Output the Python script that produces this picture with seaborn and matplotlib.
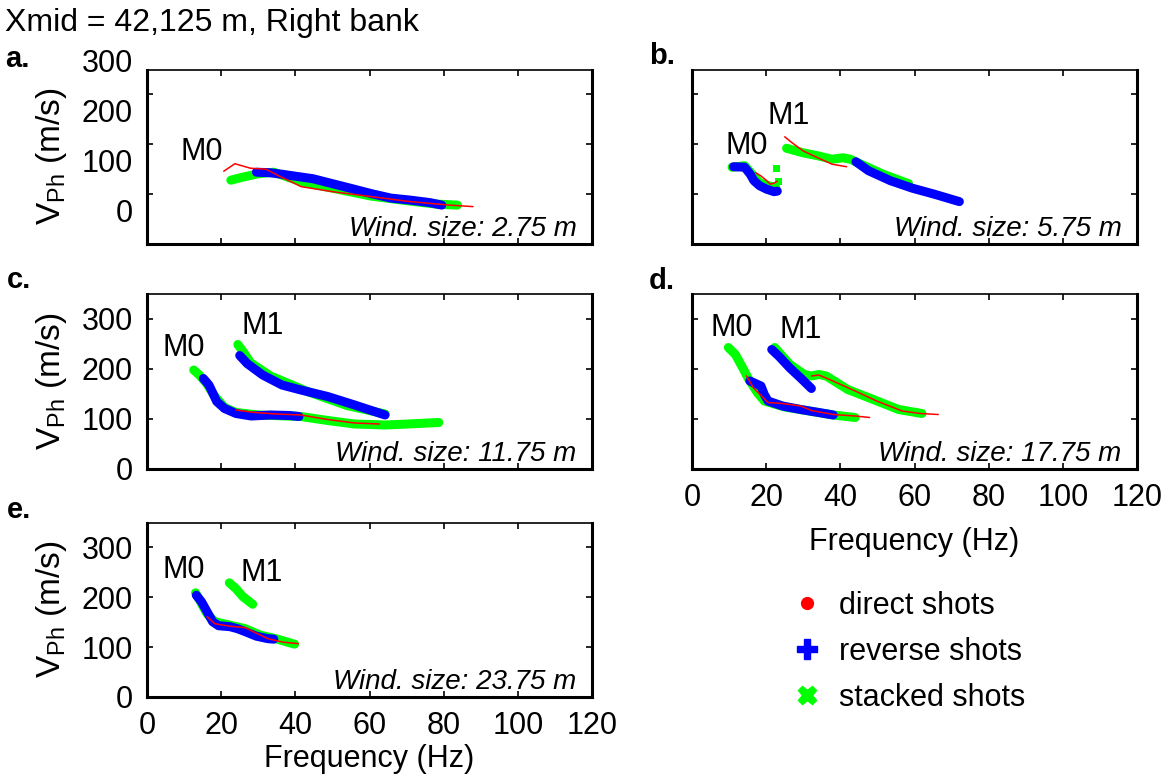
import matplotlib
matplotlib.use("Agg")
import matplotlib.pyplot as plt
import matplotlib.transforms as mtransforms
from matplotlib.lines import Line2D
import seaborn as sns

# ---------------- data (frequency in Hz, phase velocity in m/s) ----------------
# Panel a (window 2.75 m)
A_M0_DIRECT_F = [20.7, 23.7, 27.9, 32.1, 36.0, 41.6, 50.0, 60.5, 71.0, 81.6, 87.9]
A_M0_DIRECT_V = [146, 161, 152, 150, 135, 115, 105, 95, 85, 78, 75]
A_M0_REVERSE_F = [29.5, 33.0, 36.3, 40.0, 44.7, 50.0, 55.3, 60.5, 65.8, 71.0, 76.3, 79.5]
A_M0_REVERSE_V = [144, 143, 140, 136, 131, 121, 111, 101, 92, 88, 83, 78]
A_M0_STACKED_F = [22.6, 25.8, 30.0, 34.2, 38.0, 42.6, 50.0, 60.5, 71.0, 78.0, 83.7]
A_M0_STACKED_V = [128, 134, 141, 144, 134, 123, 112, 96, 86, 80, 78]

# Panel b (window 5.75 m)
B_M0_DIRECT_F = [17.2, 18.5, 20.0, 21.1, 22.1, 23.0]
B_M0_DIRECT_V = [143, 137, 128, 120, 122, 126]
B_M0_REVERSE_F = [11.2, 14.2, 15.7, 16.7, 18.2, 20.1, 22.1, 23.0]
B_M0_REVERSE_V = [155, 154, 140, 127, 117, 110, 105, 106]
B_M0_STACKED_F = [10.8, 14.2, 16.2, 18.2, 21.1, 22.6]
B_M0_STACKED_V = [154, 157, 140, 123, 116, 113]
B_M0_STACKED_EXTRA_F = [22.8, 23.2]
B_M0_STACKED_EXTRA_V = [151, 126]
B_M1_DIRECT_F = [25.0, 27.0, 29.9, 33.9, 37.8, 41.7]
B_M1_DIRECT_V = [215, 203, 187, 173, 160, 155]
B_M1_REVERSE_F = [44.2, 47.6, 53.5, 59.4, 65.3, 72.1]
B_M1_REVERSE_V = [165, 147, 127, 112, 100, 85]
B_M1_STACKED_F = [25.5, 29.9, 33.9, 37.8, 40.7, 42.7, 45.6, 51.5, 58.4]
B_M1_STACKED_V = [192, 183, 177, 170, 173, 170, 160, 140, 121]

# Panel c (window 11.75 m)
C_M0_DIRECT_F = [24.0, 29.1, 35.0, 41.5, 48.7, 56.0, 62.7]
C_M0_DIRECT_V = [118, 113, 110, 108, 99, 92, 90]
C_M0_REVERSE_F = [15.2, 16.7, 17.8, 18.8, 20.9, 24.0, 28.1, 33.3, 38.4, 41.0]
C_M0_REVERSE_V = [181, 168, 151, 135, 121, 111, 106, 108, 107, 105]
C_M0_STACKED_F = [12.6, 14.1, 16.0, 18.0, 20.9, 24.0, 30.0, 41.5, 48.7, 56.0, 64.2, 70.4, 78.7]
C_M0_STACKED_V = [198, 188, 172, 148, 123, 113, 108, 105, 97, 90, 88, 90, 93]
C_M1_REVERSE_F = [25.0, 27.0, 31.2, 36.4, 41.5, 48.7, 56.0, 64.2]
C_M1_REVERSE_V = [227, 211, 188, 168, 158, 145, 128, 108]
C_M1_STACKED_F = [24.5, 26.0, 28.0, 33.3, 43.6, 53.9, 64.2]
C_M1_STACKED_V = [249, 234, 212, 186, 154, 127, 110]

# Panel d (window 17.75 m)
D_M0_DIRECT_F = [14.7, 16.6, 20.5, 24.4, 29.3, 32.2, 38.1, 44.0, 47.9]
D_M0_DIRECT_V = [186, 162, 133, 131, 126, 117, 109, 106, 103]
D_M0_REVERSE_F = [15.6, 18.6, 19.5, 20.5, 24.4, 29.3, 34.2, 38.1]
D_M0_REVERSE_V = [176, 166, 149, 136, 126, 119, 113, 108]
D_M0_STACKED_F = [9.8, 11.7, 13.7, 15.1, 17.6, 19.5, 25.0, 38.1, 44.0]
D_M0_STACKED_V = [243, 229, 202, 182, 153, 136, 124, 108, 103]
D_M1_DIRECT_F = [32.2, 34.2, 37.1, 44.0, 49.8, 56.7, 61.6, 66.4]
D_M1_DIRECT_V = [186, 188, 179, 156, 136, 116, 111, 109]
D_M1_REVERSE_F = [21.5, 23.5, 26.4, 29.3, 32.2]
D_M1_REVERSE_V = [239, 225, 202, 182, 161]
D_M1_STACKED_F = [22.3, 26.4, 30.3, 32.2, 34.2, 36.2, 42.0, 48.9, 55.7, 62.0]
D_M1_STACKED_V = [243, 209, 189, 186, 189, 186, 159, 139, 119, 111]

# Panel e (window 23.75 m)
E_M0_DIRECT_F = [16.2, 18.3, 22.4, 26.5, 29.5, 32.6, 36.7, 40.8]
E_M0_DIRECT_V = [161, 147, 142, 139, 128, 117, 110, 107]
E_M0_REVERSE_F = [13.3, 14.7, 16.2, 17.7, 19.3, 22.4, 24.4, 26.5, 29.5, 32.6, 34.2]
E_M0_REVERSE_V = [204, 191, 171, 151, 143, 141, 137, 131, 122, 117, 116]
E_M0_STACKED_F = [13.1, 14.2, 16.2, 18.3, 22.4, 26.5, 30.6, 34.7, 38.8, 39.8]
E_M0_STACKED_V = [209, 194, 167, 151, 144, 137, 124, 117, 108, 106]
E_M1_STACKED_F = [22.2, 23.9, 25.9, 28.5]
E_M1_STACKED_V = [229, 218, 201, 186]

WINDOW_TEXT = ["Wind. size: 2.75 m", "Wind. size: 5.75 m", "Wind. size: 11.75 m",
               "Wind. size: 17.75 m", "Wind. size: 23.75 m"]
PANEL_LETTERS = ["a.", "b.", "c.", "d.", "e."]
MODE_LABELS = {
    "a": [("M0", 14.7, 184)],
    "b": [("M0", 14.7, 197), ("M1", 26.0, 257)],
    "c": [("M0", 10.0, 243), ("M1", 31.2, 287)],
    "d": [("M0", 10.7, 282), ("M1", 29.3, 278)],
    "e": [("M0", 10.0, 254), ("M1", 30.9, 248)],
}
LEGEND_LABELS = ["direct shots", "reverse shots", "stacked shots"]
X_TICKS = [0, 20, 40, 60, 80, 100, 120]
Y_TICKS = [0, 100, 200, 300]

# ---------------- style ----------------
sns.set_theme(style="ticks")
plt.rcParams["font.family"] = ["Liberation Sans", "DejaVu Sans"]
plt.rcParams.update({
    "mathtext.fontset": "custom",
    "mathtext.rm": "Liberation Sans",
    "mathtext.it": "Liberation Sans:italic",
    "xtick.direction": "in",
    "ytick.direction": "in",
    "text.color": "black",
    "axes.labelcolor": "black",
    "xtick.color": "black",
    "ytick.color": "black",
    "axes.edgecolor": "black",
})

RED = "#ff0000"
BLUE = "#0000ff"
GREEN = "#00ff00"
FS = 22

W, H = 1170, 780
fig = plt.figure(figsize=(W / 100, H / 100), dpi=100)


def px_axes(left, top, right, bottom):
    return fig.add_axes([left / W, 1 - bottom / H, (right - left) / W, (bottom - top) / H])


ax_a = px_axes(147, 69.5, 592, 244)
ax_b = px_axes(692, 69.5, 1137, 244)
ax_c = px_axes(147, 294, 592, 469)
ax_d = px_axes(692, 294, 1137, 469)
ax_e = px_axes(147, 522.5, 592, 697)


def band(ax, f, v, color, lw):
    sns.lineplot(x=f, y=v, ax=ax, color=color, linewidth=lw, sort=False,
                 estimator=None, legend=False, solid_capstyle="round")


def thin(ax, f, v):
    sns.lineplot(x=f, y=v, ax=ax, color=RED, linewidth=1.1, sort=False,
                 estimator=None, legend=False)


panels = {
    "a": (ax_a, [(A_M0_STACKED_F, A_M0_STACKED_V)], [(A_M0_REVERSE_F, A_M0_REVERSE_V)],
          [(A_M0_DIRECT_F, A_M0_DIRECT_V)]),
    "b": (ax_b, [(B_M0_STACKED_F, B_M0_STACKED_V), (B_M1_STACKED_F, B_M1_STACKED_V)],
          [(B_M0_REVERSE_F, B_M0_REVERSE_V), (B_M1_REVERSE_F, B_M1_REVERSE_V)],
          [(B_M0_DIRECT_F, B_M0_DIRECT_V), (B_M1_DIRECT_F, B_M1_DIRECT_V)]),
    "c": (ax_c, [(C_M0_STACKED_F, C_M0_STACKED_V), (C_M1_STACKED_F, C_M1_STACKED_V)],
          [(C_M0_REVERSE_F, C_M0_REVERSE_V), (C_M1_REVERSE_F, C_M1_REVERSE_V)],
          [(C_M0_DIRECT_F, C_M0_DIRECT_V)]),
    "d": (ax_d, [(D_M0_STACKED_F, D_M0_STACKED_V), (D_M1_STACKED_F, D_M1_STACKED_V)],
          [(D_M0_REVERSE_F, D_M0_REVERSE_V), (D_M1_REVERSE_F, D_M1_REVERSE_V)],
          [(D_M0_DIRECT_F, D_M0_DIRECT_V), (D_M1_DIRECT_F, D_M1_DIRECT_V)]),
    "e": (ax_e, [(E_M0_STACKED_F, E_M0_STACKED_V), (E_M1_STACKED_F, E_M1_STACKED_V)],
          [(E_M0_REVERSE_F, E_M0_REVERSE_V)],
          [(E_M0_DIRECT_F, E_M0_DIRECT_V)]),
}
XLABEL_PAD = {"d": 10, "e": 2}

for i, (key, (ax, stacked, reverse, direct)) in enumerate(panels.items()):
    for f, v in stacked:
        band(ax, f, v, GREEN, 6.5)
    for f, v in reverse:
        band(ax, f, v, BLUE, 6.5)
    for f, v in direct:
        thin(ax, f, v)
    if key == "b":
        sns.scatterplot(x=B_M0_STACKED_EXTRA_F, y=B_M0_STACKED_EXTRA_V, ax=ax,
                        color=GREEN, marker="s", s=25, edgecolor="none", legend=False)
    for txt, fx, vy in MODE_LABELS[key]:
        ax.text(fx, vy, txt, ha="center", va="center", fontsize=FS, color="black")
    ax.text(0.965, 0.045, WINDOW_TEXT[i], transform=ax.transAxes, ha="right",
            va="baseline", fontsize=20, style="italic", color="black")

    ax.set_xlim(0, 120)
    ax.set_ylim(0, 350)
    ax.set_xticks(X_TICKS)
    ax.set_yticks(Y_TICKS)
    ax.set_xlabel("")
    ax.set_ylabel("")
    ax.tick_params(which="both", direction="in", top=True, right=True,
                   length=4, width=1.2, labelsize=FS, colors="black")
    ax.tick_params(axis="x", pad=10)
    ax.tick_params(axis="y", pad=10)
    for side, sp in ax.spines.items():
        sp.set_visible(True)
        sp.set_color("black")
        sp.set_linewidth(1.2 if side == "top" else 2.2)
    ax.set_facecolor("white")

    show_x = key in ("d", "e")
    show_y = key in ("a", "c", "e")
    ax.tick_params(labelbottom=show_x, labelleft=show_y)
    if show_x:
        ax.set_xlabel("Frequency (Hz)", fontsize=FS, labelpad=XLABEL_PAD[key], color="black")
    if show_y:
        ax.set_ylabel(r"$\mathrm{V_{Ph}}$ (m/s)", fontsize=FS + 2, labelpad=9, color="black")

# Panel a: tick labels appear shifted upward relative to the ticks in the original
offset = mtransforms.ScaledTranslation(0, 0.34, fig.dpi_scale_trans)
for lab in ax_a.get_yticklabels():
    lab.set_transform(lab.get_transform() + offset)

# Texts
fig.text(5 / W, 1 - 31 / H, "Xmid = 42,125 m, Right bank", fontsize=FS + 1, ha="left", va="baseline")
letter_pos = [(5, 67), (649, 64), (7, 288), (649, 289), (7, 518)]
for letter, (lx, ly) in zip(PANEL_LETTERS, letter_pos):
    fig.text(lx / W, 1 - ly / H, letter, fontsize=FS - 1, fontweight="bold", ha="left", va="baseline")

# Legend
handles = [
    Line2D([], [], linestyle="none", marker="o", markersize=8.5, color=RED, markeredgecolor=RED),
    Line2D([], [], linestyle="none", marker="P", markersize=14, color=BLUE, markeredgecolor=BLUE),
    Line2D([], [], linestyle="none", marker="X", markersize=13, color=GREEN, markeredgecolor=GREEN),
]
fig.legend(handles, LEGEND_LABELS, loc="center left", bbox_to_anchor=(792 / W, 1 - 652 / H),
           frameon=False, fontsize=FS, handlelength=1.0, handletextpad=0.55,
           labelspacing=0.52, borderpad=0, borderaxespad=0)

fig.savefig("out.png", dpi=100, facecolor="white")
